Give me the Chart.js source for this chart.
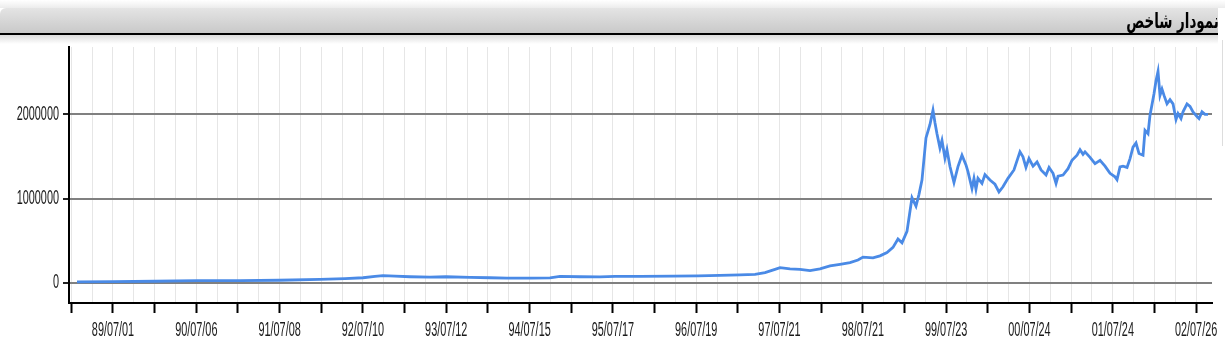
<!DOCTYPE html>
<html>
<head>
<meta charset="utf-8">
<script src="https://cdn.jsdelivr.net/npm/chart.js@4.4.1/dist/chart.umd.min.js"></script>
<style>
  html, body { margin: 0; padding: 0; background: #ffffff; }
  #wrap { position: relative; width: 1225px; height: 358px; overflow: hidden; }
  #c { position: absolute; left: 0; top: 0; }
  #topstrip { position: absolute; left: 0; top: 0; width: 1225px; height: 8px;
    background: linear-gradient(#ffffff, #ececec); }
  #header { position: absolute; left: 0; top: 8px; width: 1218px; height: 25px;
    background: linear-gradient(#e4e4e4, #c9c9c9); border-bottom: 2px solid #000;
    border-top-left-radius: 6px; }
  #shadow { position: absolute; left: 0; top: 35px; width: 1218px; height: 9px;
    background: linear-gradient(#dcdcdc, #ffffff); }
  #title { position: absolute; right: 6px; top: 8px; direction: rtl; white-space: nowrap;
    font-family: "DejaVu Sans", "Noto Sans", sans-serif; font-weight: bold; font-size: 21px;
    color: #000; transform: scaleX(0.64); transform-origin: right center; line-height: 26px; }
  #rline { position: absolute; left: 1222px; top: 40px; width: 1px; height: 106px; background: #dddddd; }
</style>
</head>
<body>
<div id="wrap">
  <canvas id="c" width="1225" height="358"></canvas>
  <div id="topstrip"></div>
  <div id="header"></div>
  <div id="shadow"></div>
  <div id="title">نمودار شاخص</div>
  <div id="rline"></div>
</div>
<script>
// ---- data (decimal solar years, index values) ----
const years = [
  1389.068, 1389.500, 1390.004, 1390.508, 1391.024, 1391.493, 1391.985, 1392.285, 1392.501, 1392.645,
  1392.741, 1392.885, 1393.065, 1393.305, 1393.497, 1393.785, 1394.025, 1394.229, 1394.517, 1394.745,
  1394.865, 1395.105, 1395.345, 1395.526, 1395.826, 1396.222, 1396.522, 1396.786, 1397.026, 1397.206,
  1397.326, 1397.446, 1397.506, 1397.626, 1397.746, 1397.866, 1397.986, 1398.106, 1398.226, 1398.346,
  1398.442, 1398.502, 1398.622, 1398.706, 1398.790, 1398.862, 1398.922, 1398.970, 1399.030, 1399.066,
  1399.090, 1399.138, 1399.174, 1399.210, 1399.258, 1399.306, 1399.342, 1399.366, 1399.390, 1399.426,
  1399.450, 1399.486, 1399.510, 1399.546, 1399.594, 1399.642, 1399.690, 1399.738, 1399.762, 1399.810,
  1399.834, 1399.858, 1399.882, 1399.930, 1399.966, 1400.026, 1400.086, 1400.134, 1400.182, 1400.242,
  1400.314, 1400.386, 1400.422, 1400.458, 1400.494, 1400.543, 1400.591, 1400.639, 1400.699, 1400.735,
  1400.783, 1400.819, 1400.843, 1400.903, 1400.963, 1401.011, 1401.071, 1401.107, 1401.143, 1401.167,
  1401.227, 1401.287, 1401.347, 1401.407, 1401.467, 1401.527, 1401.551, 1401.587, 1401.623, 1401.671,
  1401.707, 1401.743, 1401.779, 1401.815, 1401.863, 1401.887, 1401.923, 1401.947, 1401.995, 1402.019,
  1402.043, 1402.067, 1402.091, 1402.115, 1402.151, 1402.187, 1402.223, 1402.259, 1402.283, 1402.319,
  1402.343, 1402.391, 1402.427, 1402.463, 1402.511, 1402.535, 1402.571, 1402.607, 1402.643
];
const indexValues = [
  11000, 15000, 18000, 25000, 25000, 30000, 40000, 50000, 60000, 75000,
  85000, 78000, 72000, 68000, 72000, 65000, 60000, 55000, 55000, 58000,
  75000, 72000, 70000, 75000, 75000, 78000, 82000, 88000, 95000, 100000,
  120000, 160000, 180000, 165000, 160000, 145000, 165000, 200000, 220000, 240000,
  270000, 305000, 295000, 320000, 360000, 420000, 520000, 475000, 610000, 850000,
  1010000, 910000, 1050000, 1220000, 1720000, 1880000, 2050000, 1900000, 1770000, 1600000,
  1690000, 1480000, 1580000, 1380000, 1190000, 1380000, 1515000, 1400000, 1320000, 1120000,
  1240000, 1110000, 1240000, 1180000, 1285000, 1220000, 1170000, 1080000, 1140000, 1240000,
  1340000, 1555000, 1495000, 1370000, 1475000, 1385000, 1435000, 1340000, 1280000, 1370000,
  1300000, 1180000, 1265000, 1280000, 1355000, 1455000, 1515000, 1580000, 1525000, 1555000,
  1490000, 1415000, 1455000, 1385000, 1300000, 1258000, 1225000, 1375000, 1385000, 1370000,
  1475000, 1610000, 1660000, 1535000, 1515000, 1810000, 1770000, 1990000, 2245000, 2400000,
  2510000, 2225000, 2300000, 2225000, 2125000, 2175000, 2125000, 1940000, 2010000, 1950000,
  2030000, 2125000, 2095000, 2030000, 1975000, 1950000, 2030000, 2000000, 2000000
];
const tickLabels = ['89/07/01','90/07/06','91/07/08','92/07/10','93/07/12','94/07/15','95/07/17',
  '96/07/19','97/07/21','98/07/21','99/07/23','00/07/24','01/07/24','02/07/26'];
const firstLabelYear = 1389.5;
const yTickValues = [0, 1000000, 2000000];

// ---- axis tick positions (quarter-year grid, labels on each year) ----
const xTickValues = [];
for (let i = -2; i <= tickLabels.length * 4 - 4; i++) xTickValues.push(firstLabelYear + i * 0.25);
function tickOffset(v) { return (v - firstLabelYear) * 4; }
function isHalf(v) { const q = Math.round(tickOffset(v)); return q % 2 === 0; }
function labelFor(v) {
  const q = Math.round(tickOffset(v));
  if (q % 4 !== 0) return '';
  return tickLabels[q / 4] || '';
}

// condensed text look (labels drawn narrow like the reference)
const condense = {
  id: 'condense',
  beforeDraw(chart) {
    const ctx = chart.ctx;
    if (ctx.__condensed) return;
    const orig = ctx.fillText.bind(ctx);
    ctx.fillText = function (t, x, y, mw) {
      const w = ctx.measureText(t).width * 0.53;
      if (!w) return;
      return orig(t, x, y, mw !== undefined ? Math.min(mw, w) : w);
    };
    ctx.__condensed = true;
  }
};

const FONT = { family: '"Liberation Sans", Arial, sans-serif', size: 20.5 };

new Chart(document.getElementById('c'), {
  type: 'line',
  data: {
    datasets: [{
      data: years.map((t, i) => ({ x: t, y: indexValues[i] })),
      borderColor: '#4a8ae6',
      borderWidth: 2.8,
      pointRadius: 0,
      tension: 0,
      fill: false
    }]
  },
  options: {
    responsive: false,
    animation: false,
    devicePixelRatio: 1,
    layout: { padding: { top: 47, right: 13, left: 0, bottom: 0 } },
    plugins: { legend: { display: false }, tooltip: { enabled: false }, title: { display: false } },
    scales: {
      x: {
        type: 'linear',
        min: 1388.972,
        max: 1402.691,
        afterFit(s) { s.height = 55; s.paddingLeft = 0; s.paddingRight = 0; },
        afterBuildTicks(s) { s.ticks = xTickValues.map(v => ({ value: v })); },
        grid: {
          color: '#e6e6e6',
          lineWidth: 1,
          tickLength: 10,
          tickWidth: 2,
          tickColor: c => (c.tick && isHalf(c.tick.value)) ? '#000' : 'rgba(0,0,0,0)'
        },
        border: { color: '#000', width: 2 },
        ticks: { autoSkip: false, maxRotation: 0, minRotation: 0, padding: 5, color: '#1a1a1a', font: FONT,
          callback: v => labelFor(v) }
      },
      y: {
        type: 'linear',
        min: -240000,
        max: 2800000,
        afterFit(s) { s.width = 69; s.paddingTop = 0; s.paddingBottom = 0; },
        afterBuildTicks(s) { s.ticks = yTickValues.map(v => ({ value: v })); },
        grid: { color: '#808080', lineWidth: 2, tickLength: 6, tickColor: '#222', tickWidth: 2 },
        border: { color: '#000', width: 2 },
        ticks: { padding: 4, color: '#1a1a1a', font: FONT, callback: v => String(v) }
      }
    }
  },
  plugins: [condense]
});
</script>
</body>
</html>
